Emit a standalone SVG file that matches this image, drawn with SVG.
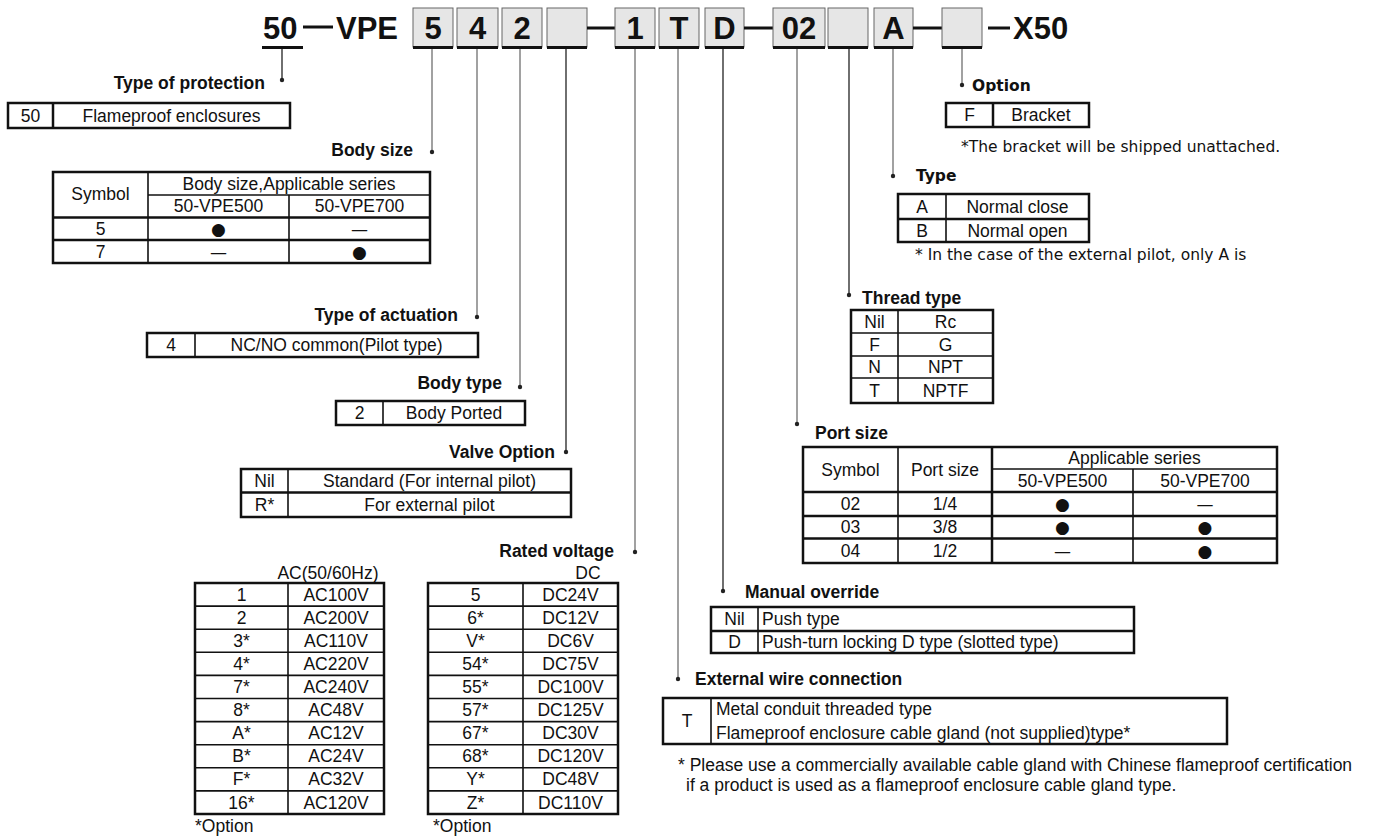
<svg xmlns="http://www.w3.org/2000/svg" width="1374" height="838" viewBox="0 0 1374 838">
<style>
text{font-family:"Liberation Sans",Arial,sans-serif;fill:#111}
.h{font-size:31px;font-weight:bold}
.lb{font-size:17.5px;font-weight:bold}
.tb{font-size:17.5px}
.tm{font-family:"DejaVu Sans",sans-serif;font-size:15.5px}
.tmb{font-family:"DejaVu Sans",sans-serif;font-size:15.5px;font-weight:bold}
.c{text-anchor:middle}
.e{text-anchor:end}
.sym{font-family:"DejaVu Sans",sans-serif;font-size:17px;text-anchor:middle}
.box{fill:#e6e6e6;stroke:#666;stroke-width:1}
.bb{stroke:#111;stroke-width:3}
.dash{stroke:#111;stroke-width:3}
.o{fill:none;stroke:#111;stroke-width:2.5}
.i{stroke:#111;stroke-width:1.6;fill:none}
.ck{stroke:#222;stroke-width:1.3}
.cg{stroke:#8a8a8a;stroke-width:1.6}
.dot{fill:#222}
</style>

<g id="header">
<text class="h" x="263" y="38.5">50</text>
<line class="bb" x1="262" y1="47.5" x2="303" y2="47.5"/>
<line class="dash" x1="303" y1="27" x2="333" y2="27"/>
<text class="h" x="336" y="38.5">VPE</text>
<rect class="box" x="413" y="8" width="40" height="39"/><line class="bb" x1="413" y1="47.5" x2="453" y2="47.5"/><text class="h c" x="433" y="38.5">5</text>
<rect class="box" x="457" y="8" width="41" height="39"/><line class="bb" x1="457" y1="47.5" x2="498" y2="47.5"/><text class="h c" x="477.5" y="38.5">4</text>
<rect class="box" x="502" y="8" width="40" height="39"/><line class="bb" x1="502" y1="47.5" x2="542" y2="47.5"/><text class="h c" x="522" y="38.5">2</text>
<rect class="box" x="547" y="8" width="40" height="39"/><line class="bb" x1="547" y1="47.5" x2="587" y2="47.5"/>
<line class="dash" x1="587" y1="28" x2="615" y2="28"/>
<rect class="box" x="615" y="8" width="40" height="39"/><line class="bb" x1="615" y1="47.5" x2="655" y2="47.5"/><text class="h c" x="635" y="38.5">1</text>
<rect class="box" x="659" y="8" width="40" height="39"/><line class="bb" x1="659" y1="47.5" x2="699" y2="47.5"/><text class="h c" x="679" y="38.5">T</text>
<rect class="box" x="705" y="8" width="39" height="39"/><line class="bb" x1="705" y1="47.5" x2="744" y2="47.5"/><text class="h c" x="724.5" y="38.5">D</text>
<line class="dash" x1="744" y1="28" x2="773" y2="28"/>
<rect class="box" x="773" y="8" width="52" height="39"/><line class="bb" x1="773" y1="47.5" x2="825" y2="47.5"/><text class="h c" x="799" y="38.5">02</text>
<rect class="box" x="828" y="8" width="40" height="39"/><line class="bb" x1="828" y1="47.5" x2="868" y2="47.5"/>
<rect class="box" x="874" y="8" width="39" height="39"/><line class="bb" x1="874" y1="47.5" x2="913" y2="47.5"/><text class="h c" x="893.5" y="38.5">A</text>
<line class="dash" x1="913" y1="28" x2="942" y2="28"/>
<rect class="box" x="942" y="8" width="40" height="39"/><line class="bb" x1="942" y1="47.5" x2="982" y2="47.5"/>
<line class="dash" x1="988" y1="28" x2="1010" y2="28"/>
<text class="h" x="1013" y="38.5">X50</text>
</g>

<g id="connectors">
<line class="ck" x1="282" y1="49" x2="282" y2="80"/><circle class="dot" cx="282" cy="80" r="2.2"/>
<line class="cg" x1="432" y1="49" x2="432" y2="152"/><circle class="dot" cx="432" cy="152" r="2.2"/>
<line class="cg" x1="477" y1="49" x2="477" y2="317"/><circle class="dot" cx="477" cy="317" r="2.2"/>
<line class="cg" x1="520" y1="49" x2="520" y2="387"/><circle class="dot" cx="520" cy="387" r="2.2"/>
<line class="ck" x1="566" y1="49" x2="566" y2="452"/><circle class="dot" cx="566" cy="452" r="2.2"/>
<line class="cg" x1="635" y1="49" x2="635" y2="552"/><circle class="dot" cx="635" cy="552" r="2.2"/>
<line class="cg" x1="678" y1="49" x2="678" y2="679"/><circle class="dot" cx="678" cy="679" r="2.2"/>
<line class="ck" x1="723" y1="49" x2="723" y2="591"/><circle class="dot" cx="723" cy="591" r="2.2"/>
<line class="cg" x1="797" y1="49" x2="797" y2="424"/><circle class="dot" cx="797" cy="424" r="2.2"/>
<line class="ck" x1="849" y1="49" x2="849" y2="295"/><circle class="dot" cx="849" cy="295" r="2.2"/>
<line class="cg" x1="893" y1="49" x2="893" y2="176"/><circle class="dot" cx="893" cy="176" r="2.2"/>
<line class="cg" x1="962" y1="49" x2="962" y2="85"/><circle class="dot" cx="962" cy="85" r="2.2"/>
</g>

<g id="protection">
<text class="lb e" x="265" y="89">Type of protection</text>
<rect class="o" x="8" y="103" width="282" height="25"/>
<line class="o" x1="53" y1="103" x2="53" y2="128"/>
<text class="tb c" x="30.5" y="121.5">50</text>
<text class="tb c" x="171.5" y="121.5">Flameproof enclosures</text>
</g>

<g id="body-size">
<text class="lb e" x="413" y="156">Body size</text>
<rect class="o" x="53" y="172" width="377" height="91"/>
<line class="i" x1="148" y1="172" x2="148" y2="263"/>
<line class="i" x1="289" y1="195" x2="289" y2="263"/>
<line class="i" x1="148" y1="195" x2="430" y2="195"/>
<line class="o" x1="53" y1="217.5" x2="430" y2="217.5"/>
<line class="o" x1="53" y1="240" x2="430" y2="240"/>
<text class="tb c" x="100.5" y="200">Symbol</text>
<text class="tb c" x="289" y="189.5">Body size,Applicable series</text>
<text class="tb c" x="218.5" y="212">50-VPE500</text>
<text class="tb c" x="359.5" y="212">50-VPE700</text>
<text class="tb c" x="100.5" y="235">5</text>
<text class="sym" x="218.5" y="235">●</text>
<text class="sym" x="359.5" y="235">—</text>
<text class="tb c" x="100.5" y="257.5">7</text>
<text class="sym" x="218.5" y="257.5">—</text>
<text class="sym" x="359.5" y="257.5">●</text>
</g>

<g id="actuation">
<text class="lb e" x="458" y="321">Type of actuation</text>
<rect class="o" x="147" y="333" width="331" height="24"/>
<line class="i" x1="195" y1="333" x2="195" y2="357"/>
<text class="tb c" x="171" y="351">4</text>
<text class="tb c" x="336.5" y="351">NC/NO common(Pilot type)</text>
</g>

<g id="body-type">
<text class="lb e" x="502" y="389">Body type</text>
<rect class="o" x="336" y="401" width="189" height="24"/>
<line class="i" x1="383" y1="401" x2="383" y2="425"/>
<text class="tb c" x="359.5" y="419">2</text>
<text class="tb c" x="454" y="419">Body Ported</text>
</g>

<g id="valve-option">
<text class="lb e" x="555" y="458">Valve Option</text>
<rect class="o" x="241" y="469" width="330" height="48"/>
<line class="i" x1="288" y1="469" x2="288" y2="517"/>
<line class="o" x1="241" y1="492.5" x2="571" y2="492.5"/>
<text class="tb c" x="264.5" y="486.5">Nil</text>
<text class="tb c" x="429.5" y="486.5">Standard (For internal pilot)</text>
<text class="tb c" x="264.5" y="510.5">R*</text>
<text class="tb c" x="429.5" y="510.5">For external pilot</text>
</g>

<g id="rated-voltage">
<text class="lb e" x="614" y="557">Rated voltage</text>
<text class="tb c" x="328" y="579">AC(50/60Hz)</text>
<text class="tb c" x="588" y="579">DC</text>
<rect class="o" x="195" y="583" width="189" height="231"/>
<line class="i" x1="288" y1="583" x2="288" y2="814"/>
<g class="i">
<line x1="195" y1="606.1" x2="384" y2="606.1"/><line x1="195" y1="629.2" x2="384" y2="629.2"/><line x1="195" y1="652.3" x2="384" y2="652.3"/><line x1="195" y1="675.4" x2="384" y2="675.4"/><line x1="195" y1="698.5" x2="384" y2="698.5"/><line x1="195" y1="721.6" x2="384" y2="721.6"/><line x1="195" y1="744.7" x2="384" y2="744.7"/><line x1="195" y1="767.8" x2="384" y2="767.8"/><line x1="195" y1="790.9" x2="384" y2="790.9"/>
</g>
<rect class="o" x="428" y="583" width="190" height="231"/>
<line class="i" x1="523" y1="583" x2="523" y2="814"/>
<g class="i">
<line x1="428" y1="606.1" x2="618" y2="606.1"/><line x1="428" y1="629.2" x2="618" y2="629.2"/><line x1="428" y1="652.3" x2="618" y2="652.3"/><line x1="428" y1="675.4" x2="618" y2="675.4"/><line x1="428" y1="698.5" x2="618" y2="698.5"/><line x1="428" y1="721.6" x2="618" y2="721.6"/><line x1="428" y1="744.7" x2="618" y2="744.7"/><line x1="428" y1="767.8" x2="618" y2="767.8"/><line x1="428" y1="790.9" x2="618" y2="790.9"/>
</g>
<g class="tb c">
<text x="241.5" y="600.5">1</text><text x="336" y="600.5">AC100V</text>
<text x="241.5" y="623.7">2</text><text x="336" y="623.7">AC200V</text>
<text x="241.5" y="646.8">3*</text><text x="336" y="646.8">AC110V</text>
<text x="241.5" y="669.9">4*</text><text x="336" y="669.9">AC220V</text>
<text x="241.5" y="693">7*</text><text x="336" y="693">AC240V</text>
<text x="241.5" y="716">8*</text><text x="336" y="716">AC48V</text>
<text x="241.5" y="739.2">A*</text><text x="336" y="739.2">AC12V</text>
<text x="241.5" y="762.3">B*</text><text x="336" y="762.3">AC24V</text>
<text x="241.5" y="785.4">F*</text><text x="336" y="785.4">AC32V</text>
<text x="241.5" y="808.5">16*</text><text x="336" y="808.5">AC120V</text>
<text x="475.5" y="600.5">5</text><text x="570.5" y="600.5">DC24V</text>
<text x="475.5" y="623.7">6*</text><text x="570.5" y="623.7">DC12V</text>
<text x="475.5" y="646.8">V*</text><text x="570.5" y="646.8">DC6V</text>
<text x="475.5" y="669.9">54*</text><text x="570.5" y="669.9">DC75V</text>
<text x="475.5" y="693">55*</text><text x="570.5" y="693">DC100V</text>
<text x="475.5" y="716">57*</text><text x="570.5" y="716">DC125V</text>
<text x="475.5" y="739.2">67*</text><text x="570.5" y="739.2">DC30V</text>
<text x="475.5" y="762.3">68*</text><text x="570.5" y="762.3">DC120V</text>
<text x="475.5" y="785.4">Y*</text><text x="570.5" y="785.4">DC48V</text>
<text x="475.5" y="808.5">Z*</text><text x="570.5" y="808.5">DC110V</text>
</g>
<text class="tb" x="195" y="832">*Option</text>
<text class="tb" x="433" y="832">*Option</text>
</g>

<g id="option">
<text class="tmb" x="972" y="91">Option</text>
<rect class="o" x="946" y="103" width="143" height="24"/>
<line class="o" x1="993" y1="103" x2="993" y2="127"/>
<text class="tb c" x="969.5" y="121">F</text>
<text class="tb c" x="1041" y="121">Bracket</text>
<text class="tm" x="961" y="152">*The bracket will be shipped unattached.</text>
</g>

<g id="type">
<text class="tmb" x="916" y="181">Type</text>
<rect class="o" x="898" y="194" width="191" height="48"/>
<line class="i" x1="946" y1="194" x2="946" y2="242"/>
<line class="o" x1="898" y1="219" x2="1089" y2="219"/>
<text class="tb c" x="922" y="212.5">A</text>
<text class="tb c" x="1017.5" y="212.5">Normal close</text>
<text class="tb c" x="922" y="236.5">B</text>
<text class="tb c" x="1017.5" y="236.5">Normal open</text>
<text class="tm" x="915" y="260">* In the case of the external pilot, only A is</text>
</g>

<g id="thread-type">
<text class="lb" x="862" y="304">Thread type</text>
<rect class="o" x="851" y="310" width="142" height="93"/>
<line class="i" x1="898" y1="310" x2="898" y2="403"/>
<line class="i" x1="851" y1="333" x2="993" y2="333"/>
<line class="i" x1="851" y1="356" x2="993" y2="356"/>
<line class="i" x1="851" y1="378" x2="993" y2="378"/>
<g class="tb c">
<text x="874.5" y="327.5">Nil</text><text x="945.5" y="327.5">Rc</text>
<text x="874.5" y="350.5">F</text><text x="945.5" y="350.5">G</text>
<text x="874.5" y="373">N</text><text x="945.5" y="373">NPT</text>
<text x="874.5" y="396.5">T</text><text x="945.5" y="396.5">NPTF</text>
</g>
</g>

<g id="port-size">
<text class="lb" x="815" y="439">Port size</text>
<rect class="o" x="803" y="447" width="474" height="116"/>
<line class="i" x1="898" y1="447" x2="898" y2="563"/>
<line class="o" x1="992" y1="447" x2="992" y2="563"/>
<line class="i" x1="1133" y1="469" x2="1133" y2="563"/>
<line class="i" x1="992" y1="469" x2="1277" y2="469"/>
<line class="o" x1="803" y1="492" x2="1277" y2="492"/>
<line class="o" x1="803" y1="516" x2="1277" y2="516"/>
<line class="o" x1="803" y1="538.5" x2="1277" y2="538.5"/>
<g class="tb c">
<text x="850.5" y="475.5">Symbol</text>
<text x="945" y="475.5">Port size</text>
<text x="1134.5" y="464">Applicable series</text>
<text x="1062.5" y="486.5">50-VPE500</text>
<text x="1205" y="486.5">50-VPE700</text>
<text x="850.5" y="510">02</text><text x="945" y="510">1/4</text>
<text x="850.5" y="533">03</text><text x="945" y="533">3/8</text>
<text x="850.5" y="556.5">04</text><text x="945" y="556.5">1/2</text>
</g>
<text class="sym" x="1062.5" y="510">●</text><text class="sym" x="1205" y="510">—</text>
<text class="sym" x="1062.5" y="533">●</text><text class="sym" x="1205" y="533">●</text>
<text class="sym" x="1062.5" y="556.5">—</text><text class="sym" x="1205" y="556.5">●</text>
</g>

<g id="manual-override">
<text class="lb" x="745" y="598">Manual override</text>
<rect class="o" x="711" y="607" width="423" height="46"/>
<line class="i" x1="758" y1="607" x2="758" y2="653"/>
<line class="o" x1="711" y1="631" x2="1134" y2="631"/>
<text class="tb c" x="734.5" y="625">Nil</text>
<text class="tb" x="762" y="625">Push type</text>
<text class="tb c" x="734.5" y="648">D</text>
<text class="tb" x="762" y="648">Push-turn locking D type (slotted type)</text>
</g>

<g id="wire-connection">
<text class="lb" x="695" y="685">External wire connection</text>
<rect class="o" x="663" y="698" width="564" height="46"/>
<line class="i" x1="711" y1="698" x2="711" y2="744"/>
<text class="tb c" x="687" y="727">T</text>
<text class="tb" x="716" y="715">Metal conduit threaded type</text>
<text class="tb" x="716" y="739">Flameproof enclosure cable gland (not supplied)type*</text>
<text class="tb" x="678" y="771">* Please use a commercially available cable gland with Chinese flameproof certification</text>
<text class="tb" x="686" y="791">if a product is used as a flameproof enclosure cable gland type.</text>
</g>
</svg>
